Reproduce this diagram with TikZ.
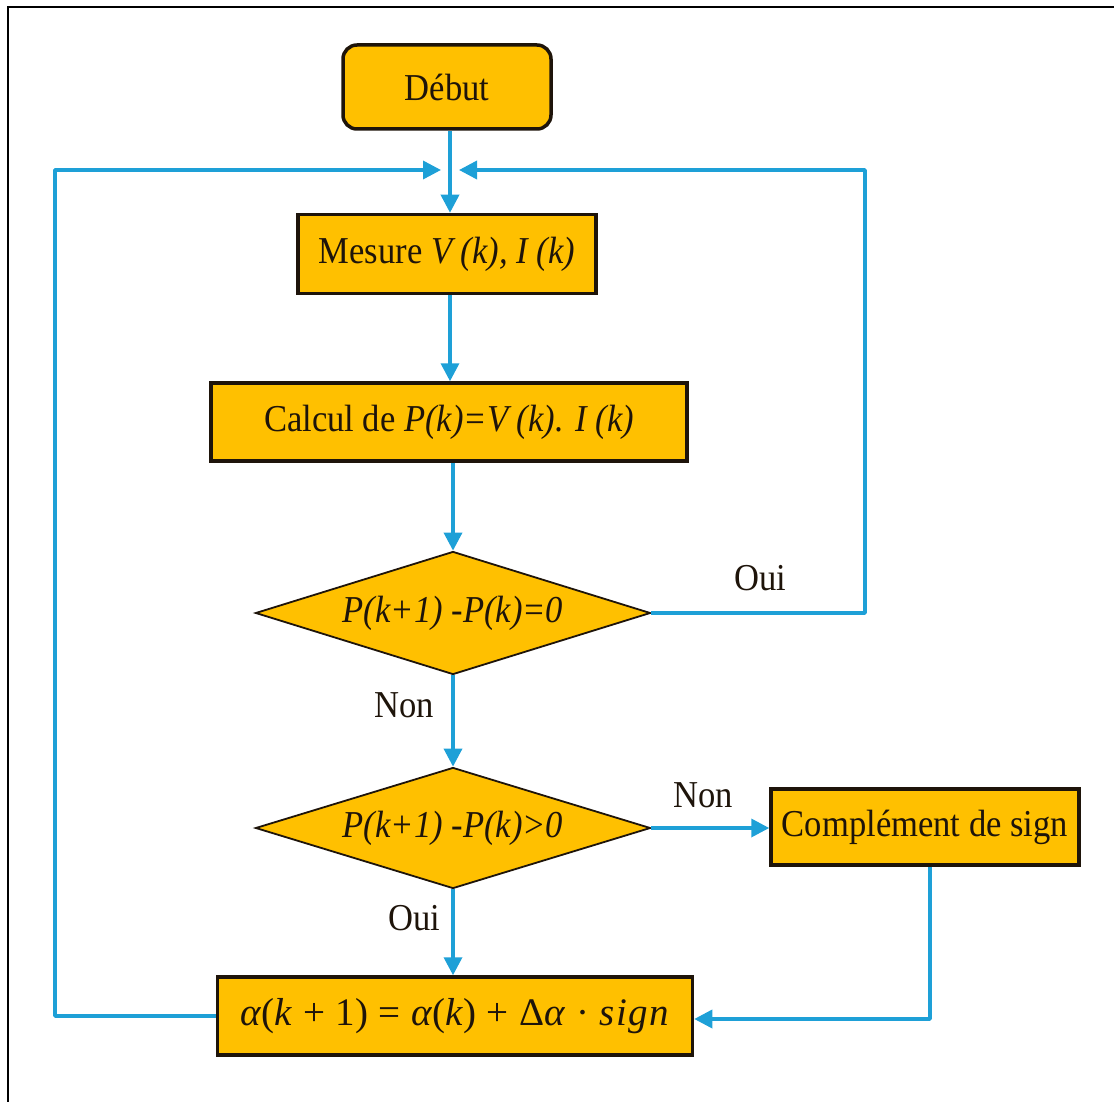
\documentclass[tikz,border=0pt]{standalone}
\usepackage{fontspec}
\setmainfont{Liberation Serif}[FakeStretch=0.91]
\newfontfamily\formulafont{Liberation Serif}
\usetikzlibrary{shapes.geometric,arrows.meta}
\definecolor{boxfill}{HTML}{FFC000}
\definecolor{flow}{RGB}{30,160,215}
\definecolor{ink}{RGB}{30,20,10}
% update formula set in serif text so it scales with the node font
\newcommand{\opsp}{\hspace{0.27em}}
\newcommand{\alphaupdate}{{\formulafont\textit{α}(\textit{k}\opsp+\opsp1)\opsp=\opsp\textit{α}(\textit{k})\opsp+\opsp Δ\textit{α}\opsp·\opsp\textit{s\kern0.04em i\kern0.04em g\kern0.04em n}}}
\begin{document}
\begin{tikzpicture}[x=1pt,y=-1pt,
  every node/.style={font=\fontsize{38}{40}\selectfont, text=ink},
  stepbox/.style={draw=ink, line width=3.5pt, fill=boxfill, inner sep=0pt},
  decision/.style={diamond, draw=ink, line width=1.8pt, fill=boxfill, inner sep=0pt, aspect=3.2},
  flowline/.style={draw=flow, line width=3.5pt, line join=round},
  flowarrow/.style={flowline, -{Triangle[length=18pt,width=18pt]}},
  lbl/.style={inner sep=0pt}]
\useasboundingbox (0,0) rectangle (1114,1102);
% outer frame (top and left edges)
\draw[line width=2pt] (8,1102) -- (8,7) -- (1114,7);

% nodes
\node[stepbox, rounded corners=14pt, minimum width=208, minimum height=84] (debut) at (447,87) {Début};
\node[stepbox, minimum width=298, minimum height=79] (mesure) at (447,254) {Mesure \textit{V (k), I (k)}};
\node[stepbox, minimum width=476, minimum height=78] (calcul) at (449,422) {Calcul de \textit{P(k)=V (k). I (k)}};
\node[decision, minimum width=395, minimum height=123] (d1) at (453,613) {\textit{P(k+1) -P(k)=0}};
\node[decision, minimum width=395, minimum height=121] (d2) at (453,828) {\textit{P(k+1) -P(k)>0}};
\node[stepbox, minimum width=308, minimum height=76] (compl) at (925,827) {Complément de sign};
\node[stepbox, minimum width=475, minimum height=78, font=\fontsize{39}{40}\selectfont] (alpha) at (455,1016) {\alphaupdate};

% branch labels
\node[lbl] (oui1) at (760,578) {Oui};
\node[lbl] (non1) at (404,705) {Non};
\node[lbl] (non2) at (703,795) {Non};
\node[lbl] (oui2) at (414,918) {Oui};

% junction and loop corners
\coordinate (join) at (450,170);
\coordinate (joinL) at (441,170);
\coordinate (joinR) at (459,170);
\coordinate (cornerLB) at (55,1016);
\coordinate (cornerLT) at (55,170);
\coordinate (cornerRB) at (865,613);
\coordinate (cornerRT) at (865,170);
\coordinate (cornerCB) at (930,1019);

% main flow
\draw[flowarrow] (debut.south -| join) -- (mesure.north -| join);
\draw[flowarrow] (mesure.south -| join) -- (calcul.north -| join);
\draw[flowarrow] (calcul.south -| d1.north) -- (d1.north);
\draw[flowarrow] (d1.south) -- (d2.north);
\draw[flowarrow] (d2.east) -- (compl.west |- d2.east);
\draw[flowarrow] (d2.south) -- (alpha.north -| d2.south);

% return loops
\draw[flowarrow] (d1.east) -- (cornerRB) -- (cornerRT) -- (joinR);
\draw[flowarrow] (alpha.west) -- (cornerLB) -- (cornerLT) -- (joinL);
\draw[flowarrow] (compl.south -| cornerCB) -- (cornerCB) -- (alpha.east |- cornerCB);
\end{tikzpicture}
\end{document}
